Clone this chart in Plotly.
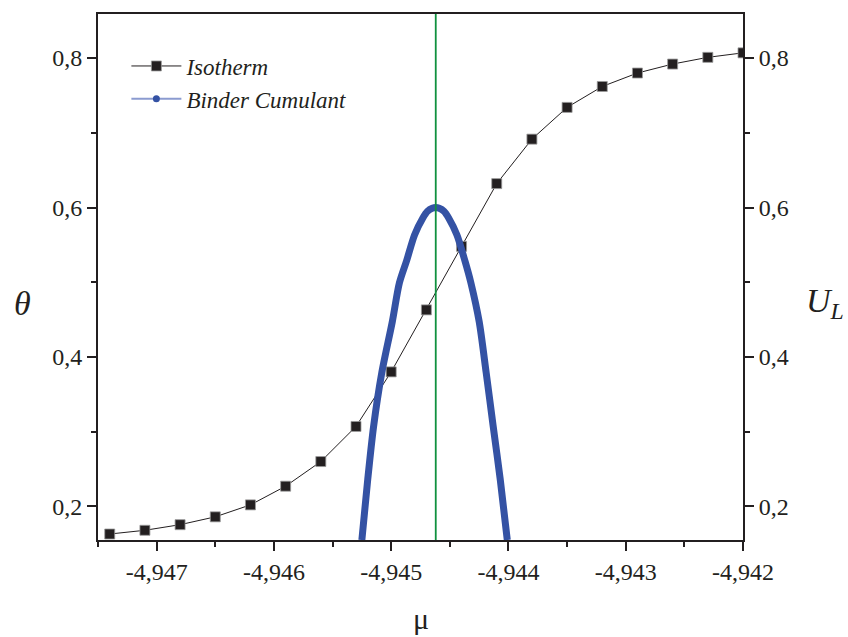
import plotly.graph_objects as go

# Adsorption isotherm: chemical potential mu vs coverage theta
mu_isotherm = [-4.9474, -4.9471, -4.9468, -4.9465, -4.9462, -4.9459, -4.9456,
               -4.9453, -4.9450, -4.9447, -4.9444, -4.9441, -4.9438, -4.9435,
               -4.9432, -4.9429, -4.9426, -4.9423, -4.9420]
theta_isotherm = [0.163, 0.168, 0.1755, 0.186, 0.202, 0.227, 0.260,
                  0.307, 0.380, 0.463, 0.548, 0.632, 0.6915, 0.734,
                  0.762, 0.780, 0.792, 0.801, 0.807]

# Binder cumulant U_L vs mu
mu_binder = [-4.94525, -4.94520, -4.94515, -4.94508, -4.94499, -4.94493,
             -4.94487, -4.94480, -4.94473, -4.94469, -4.94465, -4.94462,
             -4.94459, -4.94455, -4.94451, -4.94444, -4.94437, -4.94432,
             -4.94425, -4.94419, -4.94413, -4.94407, -4.94401]
u_binder = [0.155, 0.236, 0.307, 0.379, 0.4475, 0.499,
            0.528, 0.5635, 0.586, 0.595, 0.599, 0.600,
            0.599, 0.595, 0.586, 0.5635, 0.528, 0.499,
            0.4475, 0.379, 0.307, 0.236, 0.155]

# Critical chemical potential (maximum of U_L)
mu_critical = -4.94462

x_tick_vals = [-4.947, -4.946, -4.945, -4.944, -4.943, -4.942]
x_tick_text = ["-4,947", "-4,946", "-4,945", "-4,944", "-4,943", "-4,942"]
y_tick_vals = [0.2, 0.4, 0.6, 0.8]
y_tick_text = ["0,2", "0,4", "0,6", "0,8"]

INK = "#231f20"
BLUE = "#3452a4"
SERIF = "Liberation Serif"

fig = go.Figure()

# Binder cumulant curve (right axis)
fig.add_trace(go.Scatter(
    x=mu_binder, y=u_binder, yaxis="y2", mode="lines",
    line=dict(color=BLUE, width=7, shape="spline", smoothing=0.8),
    showlegend=False, hoverinfo="skip",
))

# Isotherm
fig.add_trace(go.Scatter(
    x=mu_isotherm, y=theta_isotherm, mode="lines+markers",
    name="<i>Isotherm</i>", legendrank=1,
    line=dict(color=INK, width=1),
    marker=dict(symbol="square", size=10, color=INK,
                line=dict(color="#9a9a9a", width=0.8)),
))

# Legend entry for the Binder cumulant
fig.add_trace(go.Scatter(
    x=[None], y=[None], yaxis="y2", mode="lines+markers",
    name="<i>Binder Cumulant</i>", legendrank=2,
    line=dict(color="#8b9bd0", width=2),
    marker=dict(symbol="circle", size=7, color=BLUE),
))

# Vertical line at the critical chemical potential
fig.add_shape(type="line", xref="x", yref="paper",
              x0=mu_critical, x1=mu_critical, y0=0, y1=1,
              line=dict(color="#10913f", width=1.8), layer="above")

axis_common = dict(
    showline=True, linecolor=INK, linewidth=2,
    ticks="outside", tickcolor=INK, tickwidth=1.5, ticklen=9,
    showgrid=False, zeroline=False,
    tickfont=dict(family=SERIF, size=24, color=INK),
)

minor_ticks = dict(ticks="outside", ticklen=5, tickwidth=1.5, tickcolor=INK)

fig.update_layout(
    width=848, height=637,
    margin=dict(l=98, r=105, t=14, b=97),
    paper_bgcolor="white", plot_bgcolor="white",
    font=dict(family=SERIF, color=INK),
    xaxis=dict(
        range=[-4.9475, -4.942],
        tickmode="array", tickvals=x_tick_vals, ticktext=x_tick_text,
        mirror=True,
        minor=dict(tick0=-4.9465, dtick=0.001, **minor_ticks),
        **axis_common,
    ),
    yaxis=dict(
        range=[0.155, 0.859],
        tickmode="array", tickvals=y_tick_vals, ticktext=y_tick_text,
        minor=dict(tick0=0.3, dtick=0.2, **minor_ticks),
        **axis_common,
    ),
    yaxis2=dict(
        range=[0.155, 0.859], overlaying="y", side="right",
        tickmode="array", tickvals=y_tick_vals, ticktext=y_tick_text,
        minor=dict(tick0=0.3, dtick=0.2, **minor_ticks),
        **axis_common,
    ),
    legend=dict(
        x=0.044, y=0.942, xanchor="left", yanchor="top",
        bgcolor="rgba(0,0,0,0)", borderwidth=0,
        font=dict(family=SERIF, size=23, color=INK),
        itemwidth=50, tracegroupgap=0,
    ),
    showlegend=True,
    annotations=[
        dict(text="<i>θ</i>", xref="paper", yref="paper", x=0, y=0.45,
             xshift=-76, showarrow=False, xanchor="center", yanchor="middle",
             font=dict(family=SERIF, size=34, color=INK)),
        dict(text="<i>U</i><sub><i>L</i></sub>", xref="paper", yref="paper",
             x=1, y=0.45, xshift=82, showarrow=False, xanchor="center",
             yanchor="middle", font=dict(family=SERIF, size=34, color=INK)),
        dict(text="μ", xref="paper", yref="paper", x=0.5, y=0,
             yshift=-60, showarrow=False, xanchor="center", yanchor="top",
             font=dict(family=SERIF, size=30, color=INK)),
    ],
)

fig.write_html("out.html")
